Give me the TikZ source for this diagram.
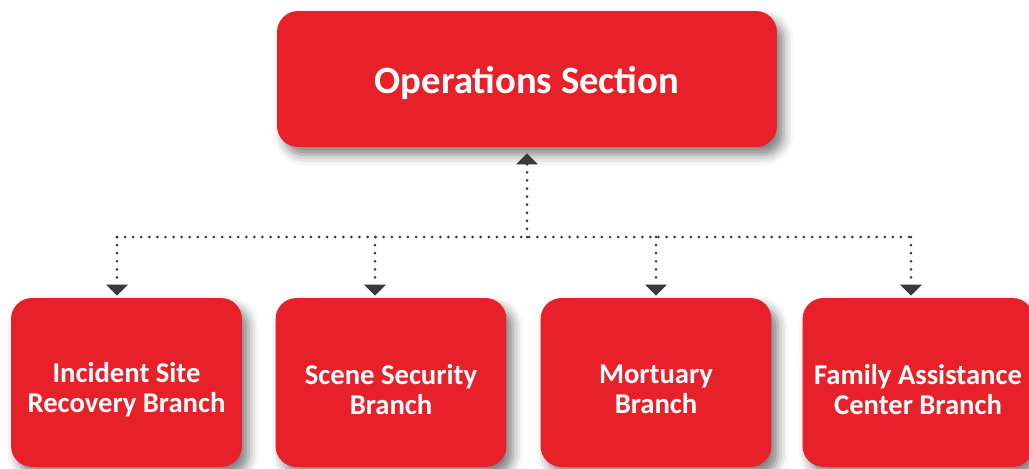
\documentclass[tikz,border=0pt]{standalone}
\usepackage{fontspec}
\setmainfont{Carlito}
\usetikzlibrary{arrows.meta,shadows.blur,positioning}

\definecolor{opsred}{RGB}{232,32,42}
\definecolor{linkgray}{RGB}{58,58,58}

\begin{document}
\begin{tikzpicture}[x=0.02cm,y=-0.02cm,
    unit/.style={fill=opsred, text=white, align=center, rounded corners=0.42cm,
      blur shadow={shadow xshift=0.13cm, shadow yshift=-0.16cm,
        shadow blur radius=0.2cm, shadow opacity=50}},
    sectionbox/.style={unit, minimum width=10cm, minimum height=2.72cm,
      font=\bfseries\fontsize{22}{26}\selectfont,
      execute at begin node={\rule{0pt}{20pt}}},
    branchbox/.style={unit, minimum width=4.62cm, minimum height=3.38cm},
    branchtext/.style={text=white, align=center, yshift=-0.14cm,
      font=\bfseries\fontsize{16.3}{17}\selectfont},
    link/.style={linkgray, line width=1.7pt, dash pattern=on 0pt off 4.6pt, line cap=round},
    tip/.style={-{Triangle[width=0.42cm,length=0.22cm]}}]

  \useasboundingbox (0,0) rectangle (1029,468);

  % ==================================================
  % Section on top
  % ==================================================
  \node[sectionbox] (ops) at (527,79) {Operations Section};

  % ==================================================
  % Branches in one row (text set as a centred label)
  % ==================================================
  \node[branchbox, label={[branchtext]center:Incident Site\\Recovery Branch}]
    (recovery) at (126.5,382.5) {};
  \node[branchbox, label={[branchtext]center:Scene Security\\Branch}]
    (security) at (391,382.5) {};
  \node[branchbox, label={[branchtext]center:Mortuary\\Branch}]
    (mortuary) at (656,382.5) {};
  \node[branchbox, label={[branchtext]center:Family Assistance\\Center Branch}]
    (family) at (918,382.5) {};

  % ==================================================
  % Dotted links
  % ==================================================
  \coordinate (bus) at (527,237);
  \coordinate (drop1) at (117,237);
  \coordinate (drop2) at (375,237);
  \coordinate (drop3) at (656,237);
  \coordinate (drop4) at (911,237);

  % -- up to the section
  \draw[link, tip, shorten >=0.12cm] (bus) -- (bus |- ops.south);
  % -- the bus line
  \draw[link] (drop1) -- (drop4);
  % -- down to each branch
  \draw[link, tip, shorten >=0.04cm] (drop1) -- (drop1 |- recovery.north);
  \draw[link, tip, shorten >=0.04cm] (drop2) -- (drop2 |- security.north);
  \draw[link, tip, shorten >=0.04cm] (drop3) -- (drop3 |- mortuary.north);
  \draw[link, tip, shorten >=0.04cm] (drop4) -- (drop4 |- family.north);

\end{tikzpicture}
\end{document}
